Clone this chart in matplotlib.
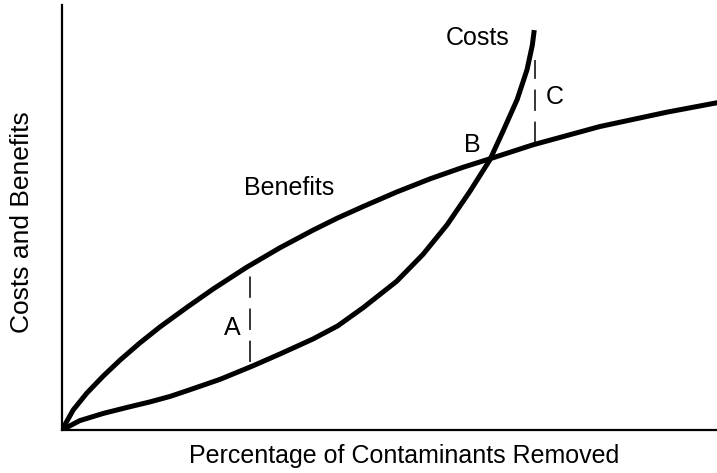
import matplotlib.pyplot as plt

plt.rcParams["font.family"] = ["Liberation Sans", "DejaVu Sans"]

# Percentage removed (0-100) and relative value (0-100)
benefit_x = [0.0, 1.7, 3.8, 6.3, 8.9, 11.9, 15.0, 19.2, 23.1, 28.2, 33.3, 38.3, 42.1, 46.0,
             51.1, 56.2, 61.2, 65.3, 71.9, 82.1, 92.4, 100.0]
benefit_y = [0.0, 4.7, 8.7, 12.7, 16.5, 20.5, 24.3, 29.0, 33.2, 38.3, 42.9, 47.0, 49.9, 52.6,
             56.0, 59.1, 61.8, 63.8, 67.1, 71.4, 74.8, 77.0]

cost_x = [0.0, 2.7, 6.3, 9.9, 13.4, 16.5, 19.2, 24.1, 29.0, 33.3, 38.3, 42.1, 46.0, 51.1,
          55.1, 58.8, 62.3, 65.3, 67.3, 69.5, 71.0, 71.8, 72.1]
cost_y = [0.0, 2.2, 3.9, 5.3, 6.6, 7.9, 9.3, 11.9, 15.0, 17.9, 21.4, 24.5, 28.8, 35.0,
          41.3, 48.3, 56.2, 63.5, 70.2, 77.8, 84.8, 90.5, 94.1]

# vertical gaps marked A and C: (x, low, high)
gap_a = (28.7, 16.0, 37.2)
gap_c = (72.2, 67.6, 87.0)

fig = plt.figure(figsize=(7.17, 4.73), dpi=100)
ax = fig.add_axes([62 / 717, 43 / 473, 655 / 717, 425 / 473])

ax.plot(benefit_x, benefit_y, color="black", lw=3.6, solid_capstyle="round", solid_joinstyle="round")
ax.plot(cost_x, cost_y, color="black", lw=3.6, solid_capstyle="butt", solid_joinstyle="round")

for x, lo, hi in (gap_a, gap_c):
    ax.plot([x, x], [lo, hi], color="black", lw=1.1, dashes=[14, 7])

ax.text(63.5, 92.2, "Costs", fontsize=18, ha="center", va="center")
ax.text(75.3, 78.4, "C", fontsize=18, ha="center", va="center")
ax.text(62.7, 67.1, "B", fontsize=18, ha="center", va="center")
ax.text(34.7, 56.9, "Benefits", fontsize=18, ha="center", va="center")
ax.text(26.0, 24.0, "A", fontsize=18, ha="center", va="center")

ax.set_xlim(0, 100)
ax.set_ylim(0, 100)
ax.set_xticks([])
ax.set_yticks([])
for side in ("top", "right"):
    ax.spines[side].set_visible(False)
for side in ("left", "bottom"):
    ax.spines[side].set_linewidth(1.6)

fig.text(404 / 717, 1 - 456 / 473, "Percentage of Contaminants Removed", fontsize=18, ha="center", va="center")
fig.text(22 / 717, 1 - 222 / 473, "Costs and Benefits", fontsize=19, rotation=90, ha="center", va="center")

fig.savefig("out.png", dpi=100)
